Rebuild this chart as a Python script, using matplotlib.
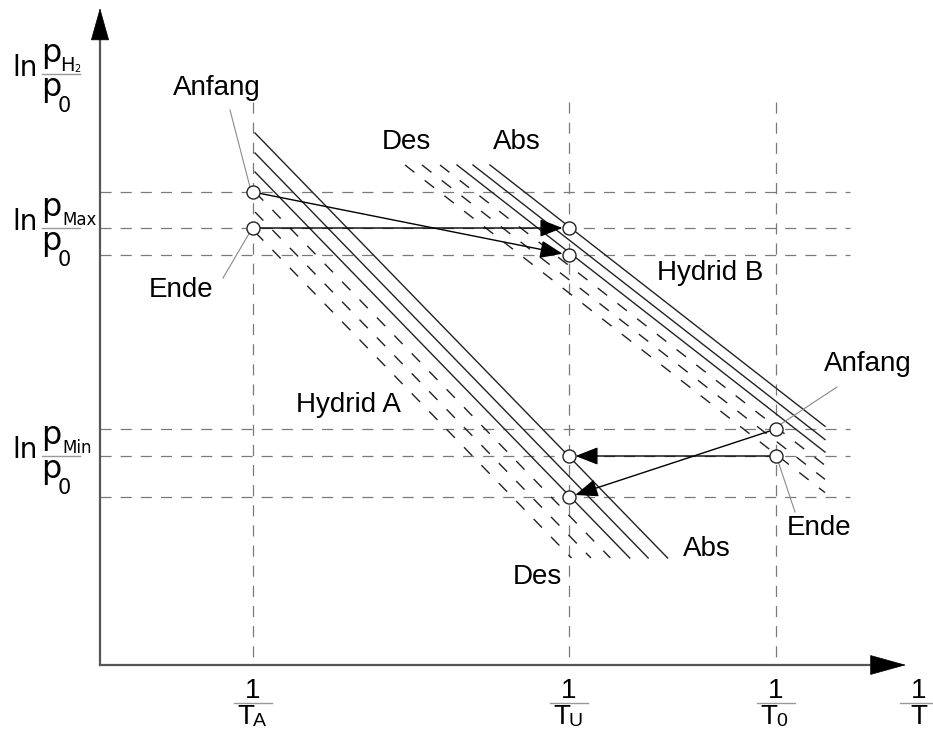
import matplotlib.pyplot as plt

plt.rcParams['font.family'] = ['Liberation Sans', 'DejaVu Sans']
plt.rcParams['lines.scale_dashes'] = False

# Lage der Temperaturen (1/T) und Druckniveaus (ln p) in Bildkoordinaten
inv_T = [253, 569, 776]
inv_T_names = ['A', 'U', '0']
ln_p_max = [192, 228, 255]
ln_p_min = [429, 456, 497]

# Hydrid A: Isosteren beginnen bei 1/T_A, enden unten
hydA_x0 = 255
hydA_abs = [133, 153, 172]
hydA_des = [192, 212, 232]
hydA_slope = 1.03
hydA_yend = 558

# Hydrid B: Isosteren beginnen oben, enden rechts
hydB_y0 = 165
hydB_abs = [457, 473, 490]
hydB_des = [405, 422, 440]
hydB_slope = 0.78
hydB_xend = 825

# Zustaende (Index 1/T, ln p) und Pfeile zwischen ihnen
states = [(0, ln_p_max[0]), (0, ln_p_max[1]), (1, ln_p_max[1]), (1, ln_p_max[2]),
          (2, ln_p_min[0]), (2, ln_p_min[1]), (1, ln_p_min[1]), (1, ln_p_min[2])]
arrows = [(0, 3), (1, 2), (4, 7), (5, 6)]

fig = plt.figure(figsize=(9.33, 7.31), dpi=100)
ax = fig.add_axes([0, 0, 1, 1])
ax.set_xlim(0, 933)
ax.set_ylim(731, 0)
ax.axis('off')

x_axis_y = 665
y_axis_x = 100
grid_col = '#7a7a7a'
dash_grid = (8, 6.5)
dash_iso = (8.6, 9.4)

# Hilfslinien
for y in ln_p_max + ln_p_min:
    ax.plot([y_axis_x, 850], [y, y], color=grid_col, lw=0.9, dashes=dash_grid)
for x in inv_T:
    ax.plot([x, x], [102, x_axis_y], color=grid_col, lw=0.9, dashes=dash_grid)

# Achsen
ax.plot([y_axis_x, y_axis_x], [x_axis_y, 38], color='#555555', lw=1.6)
ax.plot([y_axis_x, 872], [x_axis_y, x_axis_y], color='#555555', lw=1.6)
ax.annotate('', xy=(y_axis_x, 8), xytext=(y_axis_x, 39),
            arrowprops=dict(arrowstyle='-|>,head_length=22,head_width=6.2',
                            mutation_scale=1, color='black', lw=0.5,
                            shrinkA=0, shrinkB=0))
ax.annotate('', xy=(906, x_axis_y), xytext=(872, x_axis_y),
            arrowprops=dict(arrowstyle='-|>,head_length=24.5,head_width=6.8',
                            mutation_scale=1, color='black', lw=0.5,
                            shrinkA=0, shrinkB=0))

# Hydrid A
for y0 in hydA_abs:
    ax.plot([hydA_x0, hydA_x0 + (hydA_yend - y0) / hydA_slope], [y0, hydA_yend],
            color='#222222', lw=1.0)
for y0 in hydA_des:
    ax.plot([hydA_x0, hydA_x0 + (hydA_yend - y0) / hydA_slope], [y0, hydA_yend],
            color='#222222', lw=1.0, dashes=dash_iso)

# Hydrid B
for x0 in hydB_abs:
    ax.plot([x0, hydB_xend], [hydB_y0, hydB_y0 + hydB_slope * (hydB_xend - x0)],
            color='#222222', lw=1.0)
for x0 in hydB_des:
    ax.plot([x0, hydB_xend], [hydB_y0, hydB_y0 + hydB_slope * (hydB_xend - x0)],
            color='#222222', lw=1.0, dashes=dash_iso)

# Pfeile
for a, b in arrows:
    xa, ya = inv_T[states[a][0]], states[a][1]
    xb, yb = inv_T[states[b][0]], states[b][1]
    ax.annotate('', xy=(xb, yb), xytext=(xa, ya),
                arrowprops=dict(arrowstyle='-|>,head_length=14,head_width=5.5',
                                mutation_scale=1, color='black', lw=1.0,
                                shrinkA=4.5, shrinkB=4.7))

# Zustandspunkte
ax.plot([inv_T[i] for i, _ in states], [y for _, y in states], 'o',
        ms=9.4, mfc='white', mec='#222222', mew=1.0, zorder=5)

# Hinweislinien
lead = dict(color='#8a8a8a', lw=0.8)
ax.plot([230, 250], [110, 187], **lead)
ax.plot([223, 250], [278, 232], **lead)
ax.plot([837, 781], [387, 424], **lead)
ax.plot([778, 795], [461, 512], **lead)

fs = 20
labels = [('Anfang', 217, 88), ('Ende', 181, 290), ('Des', 406, 142),
          ('Abs', 517, 142), ('Hydrid B', 710, 273), ('Hydrid A', 348, 405),
          ('Anfang', 868, 364), ('Ende', 819, 528), ('Abs', 707, 549),
          ('Des', 537, 577)]
for s, x, y in labels:
    ax.text(x, y, s, fontsize=fs, ha='center', va='center')

# y-Achsen-Beschriftungen als Brueche
def ln_frac(y_bar, sub, sub_x, sub_fs, two=False):
    ax.text(12, y_bar + 2, 'ln', fontsize=20, family='DejaVu Sans',
            ha='left', va='baseline')
    ax.text(41, y_bar - 12, 'p', fontsize=23, family='DejaVu Sans',
            ha='left', va='baseline')
    ax.text(sub_x, y_bar - 3, sub, fontsize=sub_fs, family='DejaVu Sans',
            ha='left', va='baseline')
    if two:
        ax.text(sub_x + 14, y_bar - 2, '2', fontsize=7, family='DejaVu Sans',
                ha='left', va='baseline')
    ax.plot([42, 80], [y_bar, y_bar], color='#999999', lw=1.0)
    ax.text(41, y_bar + 22, 'p', fontsize=23, family='DejaVu Sans',
            ha='left', va='baseline')
    ax.text(58, y_bar + 38, '0', fontsize=15, family='DejaVu Sans',
            ha='left', va='baseline')

ln_frac(74, 'H', 60, 14, two=True)
ln_frac(228, 'Max', 62, 12)
ln_frac(456, 'Min', 62, 12)

# x-Achsen-Beschriftungen
def inv_label(x, sub):
    ax.text(x, 698, '1', fontsize=20, ha='center', va='baseline')
    ax.plot([x - 19, x + 19], [703, 703], color='#999999', lw=1.0)
    if sub:
        ax.text(x + 1, 730, 'T', fontsize=20, ha='right', va='bottom')
        ax.text(x, 730, sub, fontsize=14, ha='left', va='bottom')
    else:
        ax.text(x, 730, 'T', fontsize=20, ha='center', va='bottom')

for x, n in zip(inv_T, inv_T_names):
    inv_label(x, n)
inv_label(919, '')

fig.savefig('out.png', dpi=100)
